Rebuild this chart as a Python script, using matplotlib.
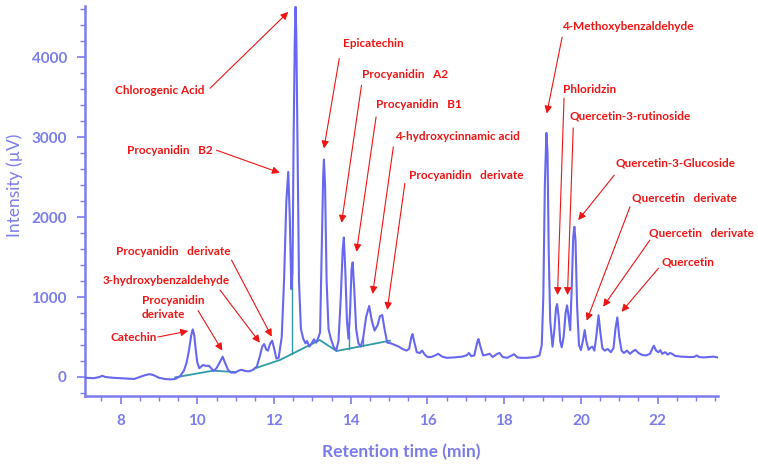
#!/usr/bin/env python3
# HPLC chromatogram of the apple extract with the identified peaks labelled.
import numpy as np
import matplotlib
matplotlib.use('Agg')
import matplotlib.pyplot as plt
from matplotlib.ticker import MultipleLocator

# Detector trace (min, uV).
TIME = [
    7.07, 7.30, 7.45, 7.52, 7.60, 7.80, 8.00, 8.20, 8.35, 8.50,
    8.65, 8.75, 8.85, 9.00, 9.15, 9.30, 9.42, 9.55, 9.65, 9.72,
    9.78, 9.84, 9.88, 9.92, 9.96, 10.00, 10.05, 10.10, 10.15, 10.22,
    10.30, 10.36, 10.42, 10.50, 10.58, 10.66, 10.72, 10.80, 10.88, 10.98,
    11.08, 11.15, 11.25, 11.35, 11.45, 11.55, 11.63, 11.69, 11.74, 11.80,
    11.84, 11.90, 11.95, 12.00, 12.06, 12.12, 12.20, 12.26, 12.32, 12.37,
    12.41, 12.45, 12.48, 12.51, 12.54, 12.56, 12.58, 12.61, 12.65, 12.70,
    12.76, 12.82, 12.86, 12.92, 12.98, 13.04, 13.10, 13.16, 13.20, 13.24,
    13.28, 13.30, 13.33, 13.37, 13.42, 13.48, 13.55, 13.62, 13.68, 13.74,
    13.79, 13.82, 13.86, 13.90, 13.94, 13.98, 14.02, 14.05, 14.09, 14.14,
    14.20, 14.26, 14.32, 14.40, 14.48, 14.55, 14.62, 14.70, 14.76, 14.82,
    14.88, 14.95, 15.05, 15.15, 15.25, 15.35, 15.45, 15.52, 15.58, 15.61,
    15.66, 15.72, 15.80, 15.86, 15.93, 16.00, 16.10, 16.20, 16.28, 16.38,
    16.50, 16.70, 16.90, 17.02, 17.08, 17.14, 17.22, 17.30, 17.33, 17.38,
    17.45, 17.55, 17.62, 17.70, 17.82, 17.88, 17.96, 18.08, 18.20, 18.26,
    18.34, 18.45, 18.60, 18.80, 18.92, 18.98, 19.02, 19.06, 19.10, 19.13,
    19.16, 19.20, 19.26, 19.31, 19.35, 19.38, 19.42, 19.46, 19.50, 19.55,
    19.60, 19.64, 19.68, 19.72, 19.76, 19.80, 19.83, 19.86, 19.90, 19.95,
    20.00, 20.05, 20.10, 20.14, 20.20, 20.26, 20.30, 20.35, 20.40, 20.46,
    20.51, 20.56, 20.62, 20.70, 20.78, 20.85, 20.90, 20.95, 21.00, 21.06,
    21.12, 21.20, 21.28, 21.35, 21.42, 21.50, 21.60, 21.70, 21.80, 21.90,
    21.96, 22.02, 22.07, 22.12, 22.20, 22.26, 22.32, 22.38, 22.45, 22.60,
    22.80, 22.95, 23.02, 23.08, 23.20, 23.35, 23.45, 23.57]
INTENSITY = [
    -10, -15, 0, 15, 0, -10, -15, -20, -25, 0,
    25, 35, 25, -10, -25, -30, -25, 10, 80, 180,
    330, 520, 596, 520, 330, 180, 110, 130, 150, 140,
    140, 110, 75, 110, 180, 254, 180, 90, 55, 55,
    80, 90, 75, 70, 90, 130, 260, 380, 412, 340,
    330, 420, 454, 360, 230, 240, 500, 1200, 2200, 2566,
    2000, 1100, 1300, 3000, 4200, 4630, 4300, 3000, 1200, 600,
    480, 420, 450, 380, 420, 470, 430, 500, 560, 1500,
    2500, 2721, 2400, 1200, 600, 480, 380, 330, 450, 1000,
    1600, 1746, 1300, 700, 480, 800, 1350, 1434, 1100, 600,
    420, 380, 480, 750, 888, 700, 580, 650, 760, 775,
    600, 430, 420, 400, 380, 350, 330, 350, 500, 537,
    430, 310, 300, 330, 280, 250, 250, 270, 290, 255,
    240, 245, 255, 270, 300, 260, 270, 440, 475, 380,
    270, 280, 290, 250, 290, 300, 250, 240, 270, 285,
    245, 240, 240, 250, 270, 400, 1000, 2400, 3054, 2800,
    1600, 700, 379, 600, 860, 912, 750, 450, 371, 500,
    800, 896, 750, 587, 1100, 1750, 1879, 1700, 900, 400,
    337, 450, 587, 450, 340, 370, 380, 330, 500, 771,
    550, 360, 330, 350, 310, 360, 600, 746, 500, 330,
    300, 330, 290, 320, 340, 300, 275, 270, 290, 392,
    330, 310, 335, 290, 310, 280, 300, 290, 265, 255,
    250, 250, 270, 250, 245, 250, 255, 245]

# Integration baselines drawn by the software (two separate runs of segments).
BASE1_TIME = [9.42, 10.41, 10.98]
BASE1_INT = [-5, 79, 62]
BASE2_TIME = [11.50, 12.15, 13.19, 13.63, 15.02]
BASE2_INT = [108, 212, 462, 325, 454]
DROP_TIMES = [12.47, 13.95, 14.32]

# Peak labels: text anchor (left, centre), arrow tail and arrow tip, data coords.
LABELS = [
    'Chlorogenic Acid', 'Procyanidin   B2', 'Epicatechin', 'Procyanidin   A2',
    'Procyanidin   B1', '4-hydroxycinnamic acid', 'Procyanidin   derivate',
    '4-Methoxybenzaldehyde', 'Phloridzin', 'Quercetin-3-rutinoside',
    'Quercetin-3-Glucoside', 'Quercetin   derivate', 'Quercetin   derivate',
    'Quercetin', 'Procyanidin   derivate', '3-hydroxybenzaldehyde',
    'Procyanidin\nderivate', 'Catechin']
LABEL_POS = [
    (7.85, 3588), (8.17, 2829), (13.79, 4175), (14.28, 3779),
    (14.66, 3409), (15.16, 3004), (15.52, 2525),
    (19.52, 4388), (19.53, 3596), (19.70, 3266),
    (20.91, 2679), (21.33, 2238), (21.77, 1804),
    (22.09, 1441), (7.88, 1571), (7.53, 1212),
    (8.55, 869), (7.74, 496)]
ARROW_TAIL = [
    (10.33, 3612), (10.50, 2837), (13.70, 3984), (14.28, 3650),
    (14.66, 3254), (15.11, 2879), (15.41, 2421),
    (19.51, 4250), (19.56, 3488), (19.80, 3116),
    (20.87, 2525), (21.28, 2129), (21.80, 1713),
    (22.02, 1359), (10.89, 1463), (10.59, 1088),
    (10.02, 829), (8.97, 500)]
ARROW_TIP = [
    (12.37, 4566), (12.15, 2554), (13.30, 2859), (13.76, 1929),
    (14.15, 1566), (14.57, 1038), (14.95, 838),
    (19.11, 3296), (19.39, 1025), (19.65, 1025),
    (19.93, 1963), (20.15, 704), (20.58, 879),
    (21.06, 816), (11.94, 504), (11.63, 429),
    (10.65, 329), (9.76, 575)]

AXIS_COLOUR = '#7b7cec'
TRACE_COLOUR = '#6767f0'
BASE_COLOUR = '#2f9aa8'
LABEL_COLOUR = '#ee1515'
FONT = ['Lato', 'DejaVu Sans']

plt.rcParams['font.family'] = FONT

fig = plt.figure(figsize=(7.58, 4.68), dpi=100)
ax = fig.add_axes([0.1121, 0.1545, 0.947 - 0.1121, 0.987 - 0.1545])

ax.plot(TIME, INTENSITY, color=TRACE_COLOUR, lw=1.5, zorder=3)
ax.plot(BASE1_TIME, BASE1_INT, color=BASE_COLOUR, lw=1.3, zorder=2)
ax.plot(BASE2_TIME, BASE2_INT, color=BASE_COLOUR, lw=1.3, zorder=2)
for t in DROP_TIMES:
    low = np.interp(t, BASE2_TIME, BASE2_INT)
    high = np.interp(t, TIME, INTENSITY)
    ax.plot([t, t], [low, high], color=BASE_COLOUR, lw=1.0, zorder=2)

for label, pos, tail, tip in zip(LABELS, LABEL_POS, ARROW_TAIL, ARROW_TIP):
    ax.text(pos[0], pos[1], label, color=LABEL_COLOUR, fontsize=8.5,
            fontweight='bold', ha='left', va='center', linespacing=1.35)
    ax.annotate('', xy=tip, xytext=tail,
                arrowprops=dict(arrowstyle='-|>', color=LABEL_COLOUR, lw=0.8,
                                mutation_scale=11, shrinkA=0, shrinkB=0))

ax.set_xlim(7.07, 23.57)
ax.set_ylim(-234, 4640)
ax.xaxis.set_major_locator(MultipleLocator(2))
ax.xaxis.set_minor_locator(MultipleLocator(0.5))
ax.yaxis.set_major_locator(MultipleLocator(1000))
ax.yaxis.set_minor_locator(MultipleLocator(200))

for side in ['top', 'right']:
    ax.spines[side].set_visible(False)
for side in ['left', 'bottom']:
    ax.spines[side].set_color(AXIS_COLOUR)
    ax.spines[side].set_linewidth(1.8)

ax.tick_params(which='major', length=6, width=1.2, color=AXIS_COLOUR,
               labelcolor=AXIS_COLOUR, labelsize=11, pad=7)
ax.tick_params(which='minor', length=3.5, width=1.0, color=AXIS_COLOUR)
for lab in ax.get_xticklabels() + ax.get_yticklabels():
    lab.set_fontweight('bold')

ax.set_xlabel('Retention time (min)', color=AXIS_COLOUR, fontsize=12.5,
              fontweight='bold', va='center')
ax.set_ylabel('Intensity (µV)', color=AXIS_COLOUR, fontsize=12.5,
              va='center')
ax.xaxis.set_label_coords(0.5, -0.146)
ax.yaxis.set_label_coords(-0.111, 0.54)

fig.savefig('out.png', dpi=100)
